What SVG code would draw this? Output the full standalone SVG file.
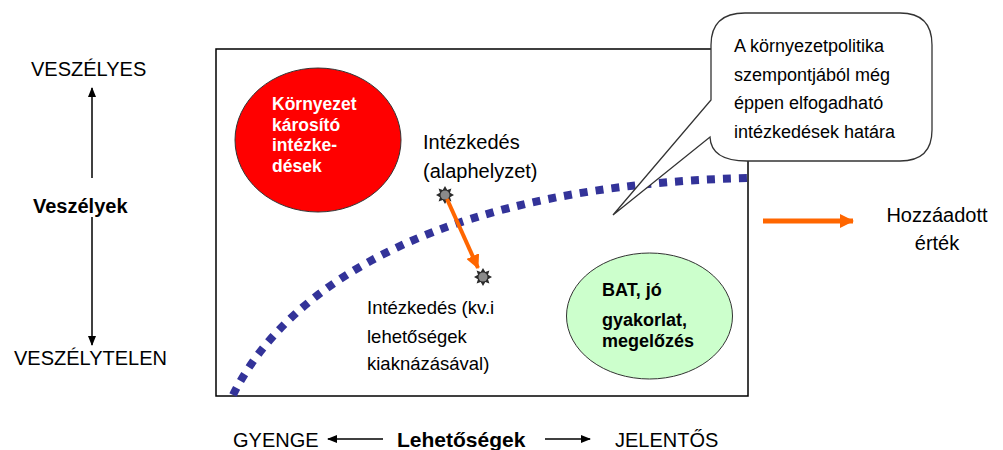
<svg xmlns="http://www.w3.org/2000/svg" width="1003" height="450" viewBox="0 0 1003 450">
<style>
text{font-family:"Liberation Sans",Arial,sans-serif;fill:#000}
.t20{font-size:20px}
.t18{font-size:18px}
.b{font-weight:bold}
.w{fill:#fff}
.ax{stroke:#000;stroke-width:1.5;fill:none}
.or{stroke:#ff6600;fill:none}
</style>
<defs>
<marker id="ah" markerUnits="userSpaceOnUse" markerWidth="10" markerHeight="8" refX="9" refY="4" orient="auto">
<path d="M0,0 L10,4 L0,8 Z" fill="#000"/>
</marker>
<marker id="oh" markerUnits="userSpaceOnUse" markerWidth="14" markerHeight="14" refX="13" refY="7" orient="auto">
<path d="M0,0 L14,7 L0,14 Z" fill="#ff6600"/>
</marker>
<g id="star">
<polygon points="0,-9 2.3,-5 6.4,-6.4 5,-2.3 9,0 5,2.3 6.4,6.4 2.3,5 0,9 -2.3,5 -6.4,6.4 -5,2.3 -9,0 -5,-2.3 -6.4,-6.4 -2.3,-5" fill="#2a2a2a"/>
<circle r="4.5" fill="#8a8a8a"/>
</g>
</defs>
<rect width="1003" height="450" fill="#fff"/>

<g id="frame">
<rect x="216" y="49" width="532" height="347" fill="#fff" stroke="#000" stroke-width="1.5"/>
</g>

<g id="boundary-curve">
<path d="M233,395 C290,280 450,185 748,178" fill="none" stroke="#333399" stroke-width="8" stroke-dasharray="8 8"/>
</g>

<g id="node-harmful">
<ellipse cx="318" cy="140" rx="83" ry="72" fill="#ff0000" stroke="#333" stroke-width="1"/>
<text class="b w" font-size="17.5" x="272" y="110">Környezet</text>
<text class="b w" font-size="17.5" x="272" y="131">károsító</text>
<text class="b w" font-size="17.5" x="272" y="151">intézke-</text>
<text class="b w" font-size="17.5" x="272" y="172">dések</text>
</g>

<g id="node-bat">
<ellipse cx="649.5" cy="316" rx="83" ry="63" fill="#ccffcc" stroke="#333" stroke-width="1"/>
<text class="b" font-size="18" x="602" y="296">BAT, jó</text>
<text class="b" font-size="18" x="602" y="326">gyakorlat,</text>
<text class="b" font-size="18" x="602" y="347">megelőzés</text>
</g>

<g id="node-base">
<use href="#star" x="445" y="195"/>
<text class="t20" x="423" y="149">Intézkedés</text>
<text class="t20" x="423" y="178">(alaphelyzet)</text>
</g>

<g id="node-improved">
<use href="#star" x="483" y="277"/>
<text font-size="18.5" x="367" y="314">Intézkedés (kv.i</text>
<text font-size="18.5" x="367" y="343">lehetőségek</text>
<text font-size="18.5" x="367" y="370">kiaknázásával)</text>
</g>

<g id="node-callout">
<path d="M745,13 H900 Q932,13 932,45 V130 Q932,161 900,161 H747 Q711,161 710,137 L613,215 L711,100 V45 Q711,13 745,13 Z" fill="#fff" stroke="#333" stroke-width="1.3"/>
<text class="t18" x="734" y="52">A környezetpolitika</text>
<text class="t18" x="734" y="81">szempontjából még</text>
<text class="t18" x="734" y="109">éppen elfogadható</text>
<text class="t18" x="734" y="138">intézkedések határa</text>
</g>

<g id="node-added-value">
<text class="t20" x="937" y="222" text-anchor="middle">Hozzáadott</text>
<text class="t20" x="937" y="250" text-anchor="middle">érték</text>
</g>

<g id="axis-labels">
<text class="t20" x="31" y="76">VESZÉLYES</text>
<text class="t20 b" x="33" y="213">Veszélyek</text>
<text class="t20" x="14" y="365">VESZÉLYTELEN</text>
<text class="t20" x="233" y="447">GYENGE</text>
<text class="b" font-size="21" x="397" y="447">Lehetőségek</text>
<text class="t20" x="615" y="447">JELENTŐS</text>
</g>

<g id="connectors">
<line class="ax" x1="92" y1="178" x2="92" y2="88" marker-end="url(#ah)"/>
<line class="ax" x1="92" y1="217" x2="92" y2="345" marker-end="url(#ah)"/>
<line class="ax" x1="383" y1="439" x2="328" y2="439" marker-end="url(#ah)"/>
<line class="ax" x1="545" y1="439" x2="590" y2="439" marker-end="url(#ah)"/>
<line class="or" stroke-width="4" x1="447" y1="199" x2="478" y2="268" marker-end="url(#oh)"/>
<line class="or" stroke-width="5" x1="763" y1="221" x2="853" y2="221" marker-end="url(#oh)"/>
</g>
</svg>
